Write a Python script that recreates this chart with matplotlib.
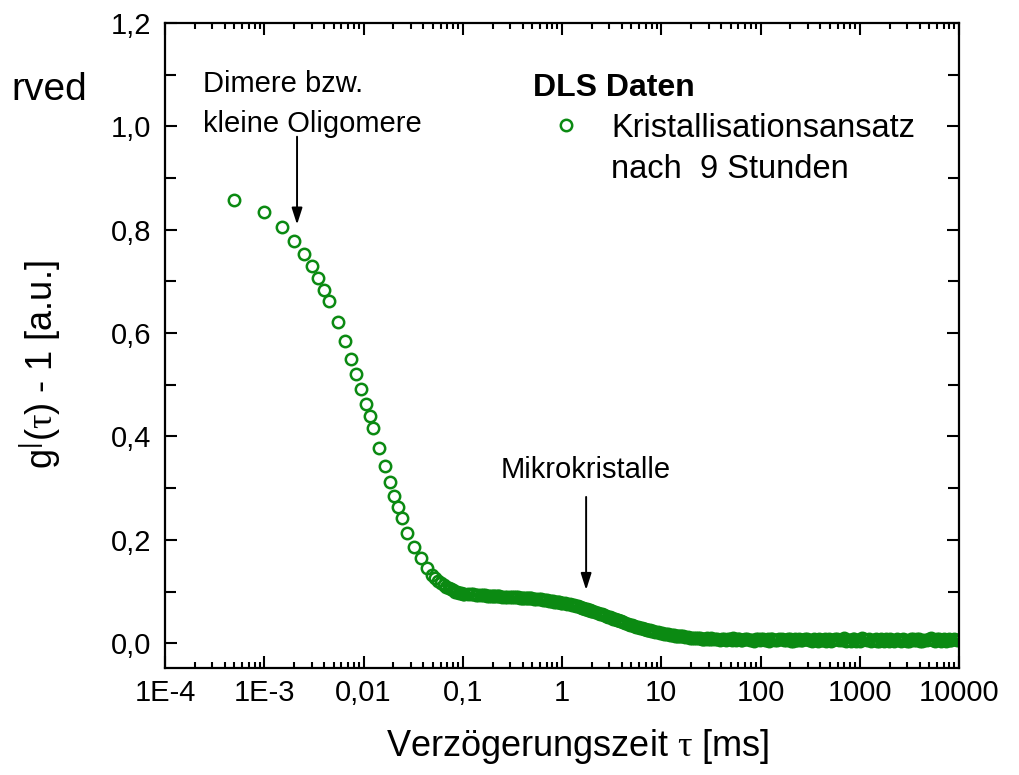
import matplotlib
matplotlib.use("Agg")
import matplotlib.pyplot as plt
from matplotlib.lines import Line2D
from matplotlib.ticker import LogLocator, MultipleLocator, NullFormatter

plt.rcParams['font.family'] = ['Liberation Sans', 'DejaVu Sans']
plt.rcParams['mathtext.fontset'] = 'custom'
plt.rcParams['mathtext.rm'] = 'Liberation Serif'
plt.rcParams['mathtext.default'] = 'regular'

# lag time tau [ms] and correlation g(tau)-1, early channels
tau_early = [0.0005, 0.0010, 0.0015, 0.0020, 0.0025, 0.0030, 0.0035, 0.0040, 0.0045,
             0.0055, 0.0065, 0.0075, 0.0085, 0.0095, 0.0105, 0.0115, 0.0125,
             0.0143, 0.0164, 0.0184, 0.0204, 0.0221, 0.0244, 0.0272,
             0.0325, 0.0377, 0.0436]
g_early = [0.857, 0.834, 0.805, 0.779, 0.753, 0.729, 0.706, 0.684, 0.663,
           0.622, 0.585, 0.550, 0.521, 0.492, 0.463, 0.439, 0.417,
           0.377, 0.342, 0.311, 0.285, 0.263, 0.242, 0.214,
           0.187, 0.164, 0.145]

# later channels: plateau, second decay and baseline
tau_late = [0.049, 0.056, 0.064, 0.072, 0.080, 0.088, 0.096, 0.104,
            0.120, 0.136, 0.152, 0.168, 0.184, 0.200, 0.216, 0.232,
            0.264, 0.296, 0.328, 0.360, 0.392, 0.424, 0.456, 0.488,
            0.552, 0.616, 0.680, 0.744, 0.808, 0.872, 0.936, 1.000,
            1.13, 1.26, 1.38, 1.51, 1.64, 1.77, 1.90, 2.02,
            2.28, 2.53, 2.79, 3.05, 3.30, 3.56, 3.82, 4.07,
            4.58, 5.10, 5.61, 6.12, 6.63, 7.14, 7.66, 8.17,
            9.19, 10.2, 11.2, 12.3, 13.3, 14.3, 15.3, 16.4,
            18.4, 20.5, 22.5, 24.6, 26.6, 28.7, 30.7, 32.8,
            36.8, 40.9, 45.0, 49.1, 53.2, 57.3, 61.4, 65.5,
            73.7, 81.9, 90.1, 98.3, 106, 115, 123, 131,
            147, 164, 180, 197, 213, 229, 246, 262,
            295, 328, 360, 393, 426, 459, 492, 524,
            590, 655, 721, 786, 852, 917, 983, 1049,
            1180, 1311, 1442, 1573, 1704, 1835, 1966, 2097,
            2359, 2621, 2884, 3146, 3408, 3670, 3932, 4194,
            4719, 5243, 5767, 6291, 6816, 7340, 7864, 8389,
            9437, 10486]
g_late = [0.131, 0.121, 0.112, 0.106, 0.102, 0.099, 0.097, 0.096,
          0.095, 0.094, 0.093, 0.093, 0.092, 0.092, 0.091, 0.091,
          0.090, 0.090, 0.089, 0.089, 0.088, 0.088, 0.087, 0.087,
          0.086, 0.085, 0.084, 0.082, 0.081, 0.080, 0.079, 0.078,
          0.076, 0.074, 0.072, 0.070, 0.068, 0.066, 0.064, 0.062,
          0.059, 0.056, 0.053, 0.050, 0.047, 0.045, 0.043, 0.041,
          0.038, 0.035, 0.032, 0.030, 0.028, 0.026, 0.025, 0.023,
          0.021, 0.019, 0.018, 0.016, 0.015, 0.014, 0.013, 0.013,
          0.012, 0.011, 0.010, 0.010, 0.009, 0.010, 0.008, 0.009,
          0.008, 0.009, 0.007, 0.008, 0.010, 0.007, 0.008, 0.006,
          0.009, 0.007, 0.008, 0.006, 0.009, 0.007, 0.005, 0.008,
          0.007, 0.009, 0.006, 0.008, 0.005, 0.007, 0.009, 0.006,
          0.008, 0.005, 0.007, 0.009, 0.006, 0.004, 0.008, 0.006,
          0.009, 0.006, 0.004, 0.007, 0.008, 0.005, 0.007, 0.010,
          0.006, 0.004, 0.008, 0.005, 0.007, 0.009, 0.005, 0.006,
          0.008, 0.005, 0.007, 0.004, 0.009, 0.006, 0.008, 0.005,
          0.007, 0.010, 0.005, 0.008, 0.006, 0.004, 0.009, 0.006,
          0.007, 0.009]

# interleaved channels of the same run
tau_mid = [0.0525, 0.060, 0.068, 0.076, 0.084, 0.092, 0.100, 0.112,
           0.128, 0.144, 0.160, 0.176, 0.192, 0.208, 0.224, 0.248,
           0.280, 0.312, 0.344, 0.376, 0.408, 0.440, 0.472, 0.520,
           0.584, 0.648, 0.712, 0.776, 0.840, 0.904, 0.968, 1.065,
           1.195, 1.32, 1.445, 1.575, 1.705, 1.835, 1.96, 2.15,
           2.405, 2.66, 2.92, 3.175, 3.43, 3.69, 3.945, 4.325,
           4.84, 5.355, 5.865, 6.375, 6.885, 7.40, 7.915, 8.68,
           9.70, 10.7, 11.75, 12.8, 13.8, 14.8, 15.85, 17.4,
           19.45, 21.5, 23.55, 25.6, 27.65, 29.7, 31.75, 34.8,
           38.85, 42.95, 47.05, 51.15, 55.25, 59.35, 63.45, 69.6,
           77.8, 86.0, 94.2, 102, 110, 119, 127, 139,
           155, 172, 188, 205, 221, 237, 254, 278,
           311, 344, 376, 409, 442, 475, 508, 557,
           622, 688, 753, 819, 884, 950, 1016, 1114,
           1245, 1376, 1507, 1638, 1769, 1900, 2031, 2228,
           2490, 2752, 3015, 3277, 3539, 3801, 4063, 4456,
           4981, 5505, 6029, 6553, 7078, 7602, 8126, 8913,
           9961]
g_mid = [0.126, 0.116, 0.109, 0.104, 0.100, 0.098, 0.096, 0.095,
         0.095, 0.094, 0.093, 0.092, 0.092, 0.091, 0.091, 0.090,
         0.090, 0.089, 0.089, 0.088, 0.088, 0.087, 0.087, 0.086,
         0.085, 0.084, 0.083, 0.082, 0.080, 0.079, 0.078, 0.077,
         0.075, 0.073, 0.071, 0.069, 0.067, 0.065, 0.063, 0.061,
         0.057, 0.054, 0.051, 0.048, 0.046, 0.044, 0.042, 0.039,
         0.036, 0.033, 0.031, 0.029, 0.027, 0.026, 0.024, 0.022,
         0.020, 0.018, 0.017, 0.015, 0.014, 0.014, 0.013, 0.012,
         0.011, 0.010, 0.011, 0.009, 0.008, 0.009, 0.010, 0.008,
         0.007, 0.009, 0.008, 0.006, 0.008, 0.009, 0.006, 0.008,
         0.007, 0.005, 0.009, 0.008, 0.006, 0.008, 0.009, 0.006,
         0.008, 0.006, 0.009, 0.005, 0.008, 0.006, 0.007, 0.009,
         0.006, 0.008, 0.005, 0.007, 0.009, 0.007, 0.005, 0.008,
         0.007, 0.010, 0.006, 0.005, 0.009, 0.007, 0.004, 0.008,
         0.009, 0.007, 0.005, 0.008, 0.004, 0.007, 0.008, 0.005,
         0.006, 0.009, 0.004, 0.008, 0.006, 0.009, 0.005, 0.007,
         0.009, 0.006, 0.008, 0.005, 0.009, 0.007, 0.006, 0.008,
         0.006]

xticks = [1e-4, 1e-3, 1e-2, 1e-1, 1, 10, 100, 1000, 10000]
xtick_labels = ['1E-4', '1E-3', '0,01', '0,1', '1', '10', '100', '1000', '10000']
yticks = [0.0, 0.2, 0.4, 0.6, 0.8, 1.0, 1.2]
ytick_labels = ['0,0', '0,2', '0,4', '0,6', '0,8', '1,0', '1,2']

green = '#0b8a12'

fig = plt.figure(figsize=(10.19, 7.75), dpi=100)
ax = fig.add_axes([165 / 1019, 1 - 668 / 775, 794 / 1019, 645 / 775])

tau = tau_early + tau_late + tau_mid
g = g_early + g_late + g_mid
pts, = ax.plot(tau, g, linestyle='none', marker='o', markersize=8.2,
               markerfacecolor='none', markeredgecolor=green, markeredgewidth=1.8)

ax.set_xscale('log')
ax.set_xlim(1e-4, 1e4)
ax.set_ylim(-0.048, 1.2)

ax.set_xticks(xticks)
ax.set_xticklabels(xtick_labels)
ax.xaxis.set_minor_locator(LogLocator(base=10, subs=range(2, 10), numticks=100))
ax.xaxis.set_minor_formatter(NullFormatter())
ax.set_yticks(yticks)
ax.set_yticklabels(ytick_labels)
ax.yaxis.set_minor_locator(MultipleLocator(0.1))

ax.tick_params(which='both', direction='in', top=True, right=True, width=1.5,
               labelsize=21, colors='black')
ax.tick_params(axis='x', which='major', length=8.5, pad=8)
ax.tick_params(axis='x', which='minor', length=4.3)
ax.tick_params(axis='y', which='major', length=8.5, pad=10)
ax.tick_params(axis='y', which='minor', length=8)
for s in ax.spines.values():
    s.set_linewidth(1.6)

ax.set_xlabel(r'Verzögerungszeit $\mathrm{\tau}$ [ms]', fontsize=26)
ax.xaxis.set_label_coords(0.52, -0.092)
ax.set_ylabel(r'g$^{|}$($\mathrm{\tau}$) - 1 [a.u.]', fontsize=26)
ax.yaxis.set_label_coords(-0.128, 0.47)

# arrows marking the two particle populations
arrow = dict(arrowstyle='-|>,head_length=0.5,head_width=0.16', color='black',
             lw=1.4, mutation_scale=20, shrinkA=0, shrinkB=0)
ax.annotate('', xy=(0.00214, 0.81), xytext=(0.00214, 0.98), arrowprops=arrow)
ax.text(2.42e-4, 1.043, 'Dimere bzw.\nkleine Oligomere', fontsize=21,
        ha='left', va='center', linespacing=1.55)

ax.annotate('', xy=(1.75, 0.103), xytext=(1.75, 0.283), arrowprops=arrow)
ax.text(1.75, 0.335, 'Mikrokristalle', fontsize=21, ha='center', va='center')

blank = Line2D([], [], linestyle='none', marker=None)
leg = ax.legend([pts, blank], ['Kristallisationsansatz', 'nach  9 Stunden'],
                loc='upper left', bbox_to_anchor=(533 / 1019, 1 - 73 / 775),
                bbox_transform=fig.transFigure, frameon=False, fontsize=23.5,
                title='DLS Daten', title_fontproperties={'weight': 'bold', 'size': 23},
                alignment='left', numpoints=1, handlelength=2.0, handletextpad=0.4,
                borderpad=0, borderaxespad=0, labelspacing=0.3)

fig.text(87 / 1019, 1 - 100 / 775, 'rved', fontsize=28, ha='right', va='baseline')

fig.savefig('out.png', dpi=100)
